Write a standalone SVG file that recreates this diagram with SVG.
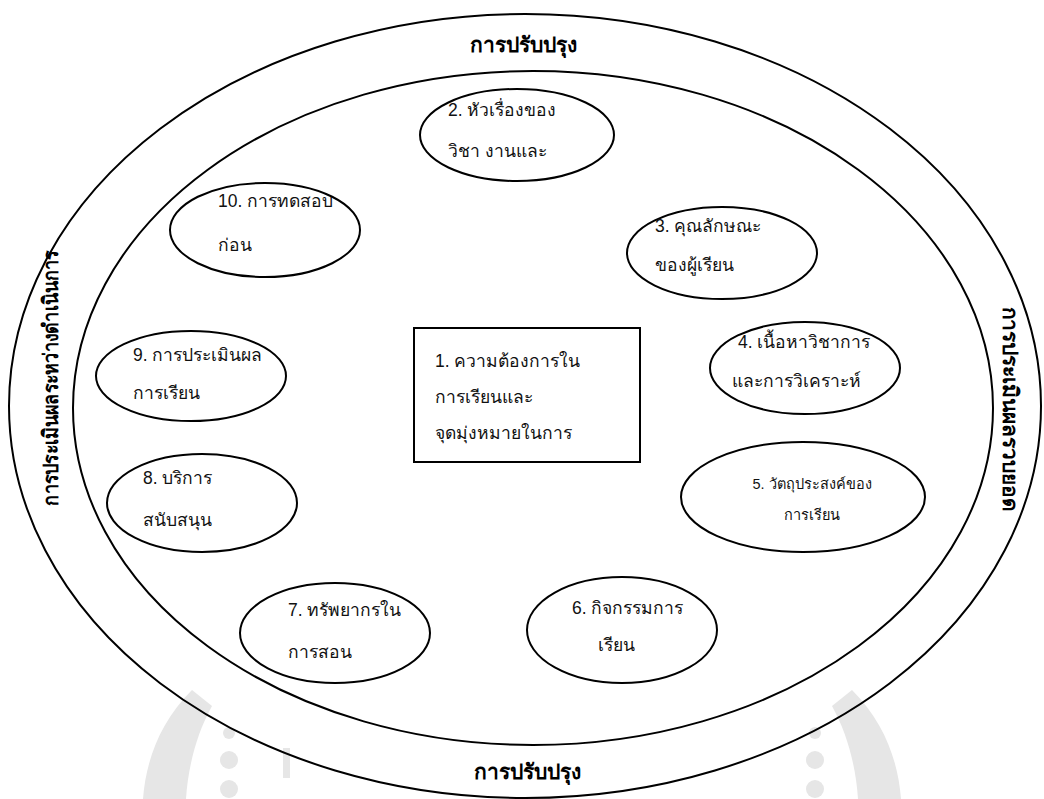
<svg xmlns="http://www.w3.org/2000/svg" width="1044" height="799" viewBox="0 0 1044 799">
  <defs>
    <style>
      .ring { fill: none; stroke: #000; stroke-width: 2; }
      .node { fill: #fff; stroke: #000; stroke-width: 2; }
      .lbl { font-family: "Liberation Sans", "DejaVu Sans", sans-serif; font-size: 17.5px; fill: #111; }
      .sm { font-size: 14.5px; }
      .band { font-family: "Liberation Sans", "DejaVu Sans", sans-serif; font-size: 21px; font-weight: bold; fill: #000; }
      .wm { fill: #e6e6e6; }
    </style>
  </defs>
  <rect x="0" y="0" width="1044" height="799" fill="#fff"/>

  <!-- faint watermark behind the lower rings -->
  <g id="watermark">
    <path class="wm" d="M143 799 C146 760 160 722 192 690 L212 706 C196 735 188 768 186 799 Z"/>
    <circle class="wm" cx="229" cy="760" r="9"/>
    <circle class="wm" cx="229" cy="789" r="9"/>
    <circle class="wm" cx="229" cy="733" r="6"/>
    <rect class="wm" x="283" y="748" width="7" height="30"/>
    <circle class="wm" cx="815" cy="760" r="9"/>
    <circle class="wm" cx="815" cy="789" r="9"/>
    <circle class="wm" cx="815" cy="733" r="6"/>
    <path class="wm" d="M901 799 C898 760 884 722 852 690 L832 706 C848 735 856 768 858 799 Z"/>
  </g>

  <!-- outer and middle rings -->
  <g id="rings">
    <ellipse class="ring" cx="525" cy="406" rx="516" ry="392"/>
    <ellipse class="ring" cx="533" cy="408" rx="460" ry="337"/>
  </g>

  <!-- ring captions -->
  <g id="captions">
    <text class="band" x="523" y="52" text-anchor="middle">การปรับปรุง</text>
    <text class="band" x="527" y="779" text-anchor="middle">การปรับปรุง</text>
    <text class="band" transform="translate(58 378) rotate(-90)" text-anchor="middle" textLength="255" lengthAdjust="spacingAndGlyphs">การประเมินผลระหว่างดำเนินการ</text>
    <text class="band" transform="translate(1003 409) rotate(90)" text-anchor="middle" textLength="205" lengthAdjust="spacingAndGlyphs">การประเมินผลรวบยอด</text>
  </g>

  <g id="n1">
    <rect class="node" x="414" y="328" width="226" height="134"/>
    <text class="lbl" x="435" y="367">1. ความต้องการใน</text>
    <text class="lbl" x="435" y="403">การเรียนและ</text>
    <text class="lbl" x="435" y="439">จุดมุ่งหมายในการ</text>
  </g>
  <g id="n2">
    <ellipse class="node" cx="517" cy="135" rx="97" ry="46"/>
    <text class="lbl" x="448" y="116">2. หัวเรื่องของ</text>
    <text class="lbl" x="448" y="157">วิชา งานและ</text>
  </g>
  <g id="n3">
    <ellipse class="node" cx="722" cy="253" rx="95" ry="46"/>
    <text class="lbl" x="655" y="232">3. คุณลักษณะ</text>
    <text class="lbl" x="655" y="271">ของผู้เรียน</text>
  </g>
  <g id="n4">
    <ellipse class="node" cx="805" cy="368" rx="95" ry="46"/>
    <text class="lbl" x="738" y="348">4. เนื้อหาวิชาการ</text>
    <text class="lbl" x="732" y="387">และการวิเคราะห์</text>
  </g>
  <g id="n5">
    <ellipse class="node" cx="803" cy="497" rx="122" ry="55"/>
    <text class="lbl sm" x="812" y="489" text-anchor="middle">5. วัตถุประสงค์ของ</text>
    <text class="lbl sm" x="812" y="520" text-anchor="middle">การเรียน</text>
  </g>
  <g id="n6">
    <ellipse class="node" cx="622" cy="630" rx="95" ry="53"/>
    <text class="lbl" x="572" y="614">6. กิจกรรมการ</text>
    <text class="lbl" x="598" y="651">เรียน</text>
  </g>
  <g id="n7">
    <ellipse class="node" cx="335" cy="633" rx="95" ry="50"/>
    <text class="lbl" x="288" y="616">7. ทรัพยากรใน</text>
    <text class="lbl" x="288" y="658">การสอน</text>
  </g>
  <g id="n8">
    <ellipse class="node" cx="202" cy="503" rx="95" ry="49"/>
    <text class="lbl" x="143" y="484">8. บริการ</text>
    <text class="lbl" x="143" y="526">สนับสนุน</text>
  </g>
  <g id="n9">
    <ellipse class="node" cx="191" cy="376" rx="95" ry="45"/>
    <text class="lbl" x="133" y="361">9. การประเมินผล</text>
    <text class="lbl" x="133" y="399">การเรียน</text>
  </g>
  <g id="n10">
    <ellipse class="node" cx="265" cy="230" rx="95" ry="47"/>
    <text class="lbl" x="218" y="207">10. การทดสอบ</text>
    <text class="lbl" x="218" y="251">ก่อน</text>
  </g>
</svg>
